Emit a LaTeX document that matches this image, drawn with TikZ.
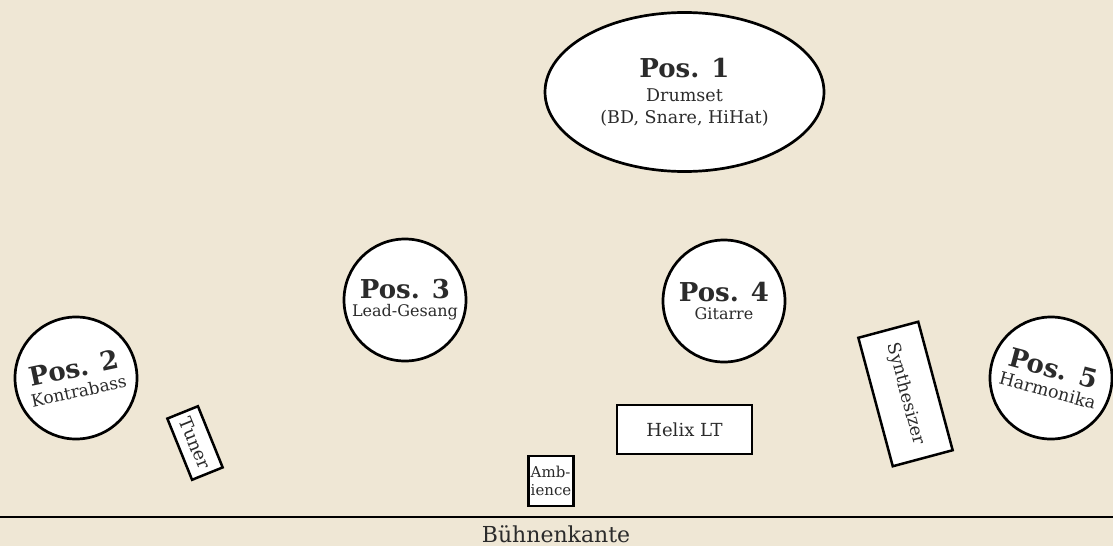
\documentclass[tikz,border=0pt]{standalone}
\usepackage{fontspec}
\setmainfont{DejaVu Serif}
\usepackage{tikz}
\usetikzlibrary{arrows}
\usetikzlibrary{shapes.geometric, positioning}

\definecolor{buehne}{HTML}{EFE7D5}
\definecolor{schrift}{HTML}{2B2B2B}
\newcommand{\posname}[1]{{\fontsize{26}{26}\selectfont\bfseries #1}}

\begin{document}
\begin{tikzpicture}[x=1pt, y=-1pt, semithick, font=\fontsize{16}{18}\selectfont, text=schrift]
	\tikzstyle{position}=[circle, draw=black, fill=white, line width=2.7pt, minimum size=122pt, inner sep=0pt, align=center]
	\tikzstyle{geraet}=[rectangle, draw=black, fill=white, line width=2.5pt, inner sep=2pt, align=center]
	
	\fill[buehne] (0,0) rectangle (1113,546);
	\useasboundingbox (0,0) rectangle (1113,546);
	
	% Positionen
	\node[position, ellipse, minimum width=279pt, minimum height=159pt, font=\fontsize{17.5}{20}\selectfont] (P1) at (684.5,92) {\posname{Pos. 1}\\[4pt] Drumset\\[2pt] (BD, Snare, HiHat)};
	\node[position, rotate=12, font=\fontsize{17}{19}\selectfont] (P2) at (76,378) {\posname{Pos. 2}\\[1pt] Kontrabass};
	\node[position] (P3) at (405,300) {\posname{Pos. 3}\\ Lead-Gesang};
	\node[position] (P4) at (724,301) {\posname{Pos. 4}\\ Gitarre};
	\node[position, rotate=-15, font=\fontsize{17.5}{19}\selectfont] (P5) at (1051,378) {\posname{Pos. 5}\\[1pt] Harmonika};
	
	% Geraete
	\node[geraet, minimum width=66pt, minimum height=33pt, rotate=-68, font=\fontsize{18}{18}\selectfont] (tuner) at (195,443) {Tuner};
	\node[geraet, minimum width=133pt, minimum height=62pt, rotate=-75, font=\fontsize{17.5}{18}\selectfont] (synth) at (905.5,394) {Synthesizer};
	\node[geraet, minimum width=135pt, minimum height=49pt, font=\fontsize{18}{18}\selectfont] (helix) at (684.5,429.5) {Helix LT};
	\node[geraet, minimum width=42pt, minimum height=50pt, align=left, inner sep=2pt, font=\fontsize{15}{18}\selectfont] (amb) at (551,481) {Amb-\\ience};
	
	% Buehnenkante
	\coordinate (kanteL) at (0,517);
	\coordinate (kanteR) at (1113,517);
	\draw[line width=2.5pt] (kanteL) -- (kanteR);
	\node[font=\fontsize{22}{22}\selectfont] (kante) at (556,534) {Bühnenkante};
\end{tikzpicture}
\end{document}
